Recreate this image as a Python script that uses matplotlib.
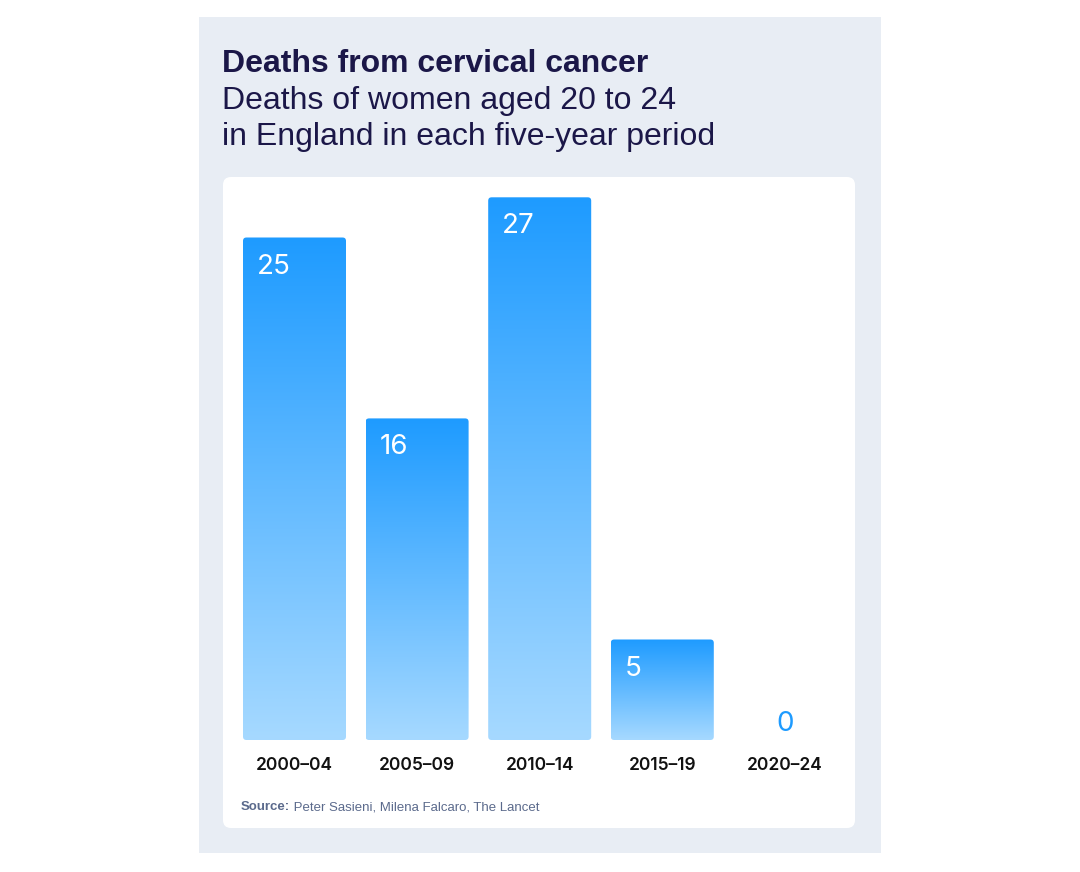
import numpy as np
import matplotlib
matplotlib.use("Agg")
import matplotlib.pyplot as plt
from matplotlib.patches import Rectangle, FancyBboxPatch
from matplotlib.colors import LinearSegmentedColormap

plt.rcParams['font.family'] = ['Inter', 'DejaVu Sans']

# data
periods = ["2000\u201304", "2005\u201309", "2010\u201314", "2015\u201319", "2020\u201324"]
deaths = [25, 16, 27, 5, 0]

title = "Deaths from cervical cancer"
subtitle = ["Deaths of women aged 20 to 24", "in England in each five-year period"]
source_lbl = "Source:"
source_txt = " Peter Sasieni, Milena Falcaro, The Lancet"

navy = "#1b1748"
blue_top = "#1e9bff"
blue_bot = "#a6d9ff"
grey = "#5b6a8c"
head_font = ["Liberation Sans", "DejaVu Sans"]

W, H = 1080, 872
fig = plt.figure(figsize=(W / 100, H / 100), dpi=100, facecolor="white")

# background axes in pixel coords (y down)
bg = fig.add_axes([0, 0, 1, 1], zorder=0)
bg.set_xlim(0, W)
bg.set_ylim(H, 0)
bg.axis("off")
bg.add_patch(Rectangle((199, 17), 682, 836, facecolor="#e8edf4", edgecolor="none"))
bg.add_patch(FancyBboxPatch((223, 177), 632, 651, boxstyle="round,pad=0,rounding_size=8",
                            facecolor="white", edgecolor="none"))

bg.text(222, 72, title, fontsize=23, fontweight="bold", color=navy, va="baseline",
        family=head_font)
bg.text(222, 109, subtitle[0], fontsize=23, color=navy, va="baseline", family=head_font)
bg.text(222, 145, subtitle[1], fontsize=23, color=navy, va="baseline", family=head_font)

t1 = bg.text(241, 810, source_lbl, fontsize=9.5, fontweight="bold", color=grey,
             va="baseline", family=head_font)
fig.canvas.draw()
r = fig.canvas.get_renderer()
bb = t1.get_window_extent(r)
bg.text(241 + bb.width, 810, source_txt, fontsize=9.5, color=grey, va="baseline",
        family=head_font)

# bar axes
px_unit = 122.6
x0_px, base_px, top_px = 294.5, 740, 178
ax = fig.add_axes([224 / W, (H - base_px) / H, 632 / W, (base_px - top_px) / H], zorder=1)
ax.patch.set_alpha(0)
xlim = ((224 - x0_px) / px_unit, (856 - x0_px) / px_unit)
ylim = (0, (base_px - top_px) / 20.1)

cmap = LinearSegmentedColormap.from_list("g", [blue_bot, blue_top])
grad = np.linspace(0, 1, 256).reshape(-1, 1)
bw = 103 / px_unit
xs = np.arange(len(periods))
bars = ax.bar(xs, deaths, width=bw, color="none", edgecolor="none")
for b, v in zip(bars, deaths):
    if v == 0:
        ax.annotate("0", (b.get_x() + bw / 2, 0), xytext=(0, 9), textcoords="offset pixels",
                    ha="center", va="baseline", fontsize=20, color=blue_top)
        continue
    x = b.get_x()
    clip = FancyBboxPatch((x, 0), bw, v, boxstyle="round,pad=0,rounding_size=0.028",
                          mutation_aspect=6.1, facecolor="none", edgecolor="none",
                          transform=ax.transData)
    ax.add_patch(clip)
    im = ax.imshow(grad, cmap=cmap, origin="lower", extent=(x, x + bw, 0, v),
                   aspect="auto", interpolation="bicubic")
    im.set_clip_path(clip)
    ax.annotate(str(v), (x, v), xytext=(14, -36), textcoords="offset pixels",
                ha="left", va="baseline", fontsize=20, color="white")

ax.set_xlim(*xlim)
ax.set_ylim(*ylim)
ax.set_xticks(xs, periods)
ax.set_yticks([])
ax.tick_params(axis="x", length=0, pad=12, labelsize=12.5, labelcolor="#111111")
for lab in ax.get_xticklabels():
    lab.set_fontweight("semibold")
for s in ax.spines.values():
    s.set_visible(False)

fig.savefig("out.png", dpi=100, facecolor="white")
